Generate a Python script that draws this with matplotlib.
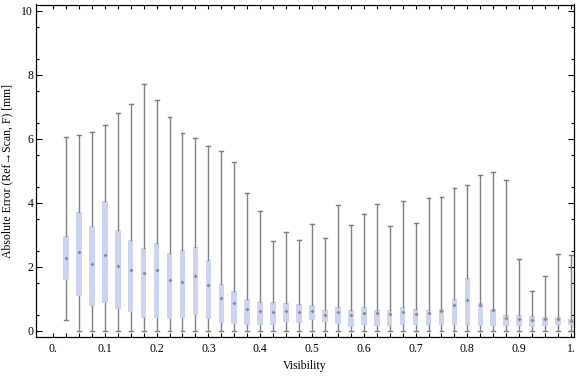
import matplotlib
matplotlib.use("Agg")
import matplotlib.pyplot as plt
import numpy as np

plt.rcParams['font.family'] = ['Liberation Serif', 'DejaVu Serif']

visibility = [0.025, 0.05, 0.075, 0.1, 0.125, 0.15, 0.175, 0.2, 0.225, 0.25,
              0.275, 0.3, 0.325, 0.35, 0.375, 0.4, 0.425, 0.45, 0.475, 0.5,
              0.525, 0.55, 0.575, 0.6, 0.625, 0.65, 0.675, 0.7, 0.725, 0.75,
              0.775, 0.8, 0.825, 0.85, 0.875, 0.9, 0.925, 0.95, 0.975, 1.0]
whisker_low = [0.32] + [0.0] * 39
q1 = [1.59, 1.08, 0.78, 0.87, 0.68, 0.59, 0.40, 0.40, 0.37, 0.40,
      0.48, 0.37, 0.24, 0.21, 0.17, 0.17, 0.18, 0.27, 0.23, 0.34,
      0.27, 0.20, 0.11, 0.17, 0.14, 0.14, 0.17, 0.17, 0.17, 0.17,
      0.17, 0.17, 0.14, 0.14, 0.14, 0.14, 0.11, 0.14, 0.17, 0.17]
median = [2.28, 2.45, 2.07, 2.36, 2.01, 1.90, 1.80, 1.89, 1.57, 1.52,
          1.69, 1.41, 1.02, 0.85, 0.66, 0.61, 0.57, 0.60, 0.57, 0.61,
          0.50, 0.57, 0.48, 0.55, 0.56, 0.52, 0.57, 0.52, 0.55, 0.60,
          0.79, 0.94, 0.81, 0.64, 0.38, 0.36, 0.32, 0.35, 0.36, 0.30]
q3 = [2.95, 3.70, 3.27, 4.05, 3.14, 2.83, 2.59, 2.74, 2.43, 2.52,
      2.61, 2.20, 1.45, 1.23, 0.98, 0.89, 0.89, 0.86, 0.83, 0.80,
      0.64, 0.73, 0.64, 0.73, 0.64, 0.64, 0.73, 0.67, 0.64, 0.67,
      0.98, 1.64, 0.86, 0.67, 0.48, 0.48, 0.45, 0.42, 0.42, 0.36]
whisker_high = [6.05, 6.11, 6.22, 6.41, 6.79, 7.07, 7.72, 7.22, 6.66, 6.16,
                6.01, 5.76, 5.61, 5.26, 4.29, 3.72, 2.79, 3.07, 2.82, 3.32,
                2.88, 3.91, 3.30, 3.63, 3.94, 3.26, 4.05, 3.35, 4.13, 4.16,
                4.44, 4.54, 4.85, 4.95, 4.69, 2.22, 1.23, 1.70, 2.38, 2.35]

x_major = [0.0, 0.1, 0.2, 0.3, 0.4, 0.5, 0.6, 0.7, 0.8, 0.9, 1.0]
x_major_labels = ["0.", "0.1", "0.2", "0.3", "0.4", "0.5", "0.6", "0.7", "0.8", "0.9", "1."]
y_major = [0, 2, 4, 6, 8, 10]

fig = plt.figure(figsize=(5.76, 3.77), dpi=100)
ax = fig.add_axes([36/576, 40/377, 538/576, 332.5/377])

stats = []
for lo, a, m, b, hi in zip(whisker_low, q1, median, q3, whisker_high):
    stats.append(dict(whislo=lo, q1=a, med=m, q3=b, whishi=hi, fliers=[]))

gray = '#7f7f7f'
ax.bxp(stats, positions=visibility, widths=0.0108, patch_artist=True,
       showfliers=False, capwidths=0.0075, manage_ticks=False,
       boxprops=dict(facecolor='#ccd4f5', edgecolor='none', linewidth=0),
       whiskerprops=dict(color=gray, linewidth=1.0),
       capprops=dict(color=gray, linewidth=1.0),
       medianprops=dict(linewidth=0, alpha=0))
ax.plot(visibility, median, linestyle='none', marker='D', markersize=2.0,
        color='#888888', markeredgewidth=0, zorder=5)

ax.set_xlim(-0.0328, 1.0058)
ax.set_ylim(-0.203, 10.19)

ax.set_xticks(x_major)
ax.set_xticklabels(x_major_labels)
ax.set_xticks([0.0] + visibility, minor=True)
ax.set_yticks(y_major)
ax.set_yticklabels([str(v) for v in y_major])
ax.set_yticks(np.arange(0.5, 10.1, 1.0), minor=True)

ax.tick_params(axis='both', which='both', direction='in', top=True, right=True,
               labelsize=8.5, colors='black', width=0.8)
ax.tick_params(axis='x', which='major', length=3, pad=4)
ax.tick_params(axis='x', which='minor', length=3)
ax.tick_params(axis='y', which='major', length=4, pad=2)
ax.tick_params(axis='y', which='minor', length=2.5)

for s in ax.spines.values():
    s.set_linewidth(0.9)
    s.set_color('black')

ax.set_xlabel("Visibility", fontsize=8.5, labelpad=4)
ax.set_ylabel("Absolute Error (Ref\u2192Scan, F) [mm]", fontsize=8.5, labelpad=6)

fig.savefig("out.png", dpi=100)
